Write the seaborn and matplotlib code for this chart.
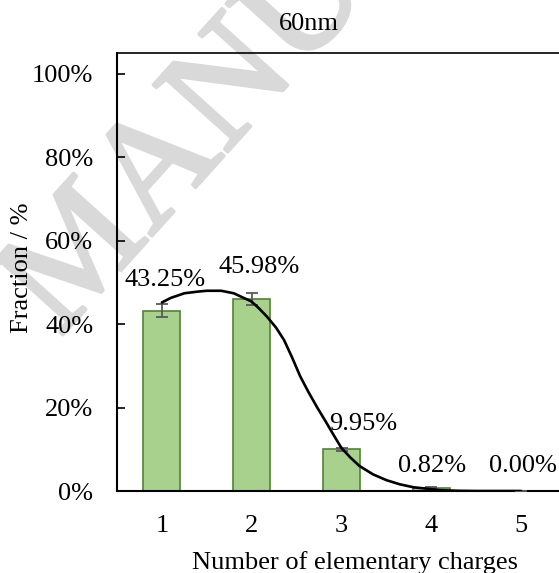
import matplotlib
matplotlib.use("Agg")
import matplotlib.pyplot as plt
import matplotlib.patheffects as pe
from matplotlib.ticker import PercentFormatter
import seaborn as sns
import pandas as pd

# ---- data ----
charges = [1, 2, 3, 4, 5]
fractions = [43.25, 45.98, 9.95, 0.82, 0.00]
errors = [1.6, 1.4, 0.3, 0.2, 0.0]
bar_labels = ["43.25%", "45.98%", "9.95%", "0.82%", "0.00%"]

curve_x = [1.0, 1.1, 1.25, 1.4, 1.5, 1.66, 1.8, 2.0, 2.08, 2.17, 2.27, 2.36, 2.45,
           2.54, 2.63, 2.73, 2.82, 2.91, 3.0, 3.1, 3.2, 3.35, 3.5, 3.65, 3.8, 4.1,
           4.3, 4.5, 5.0]
curve_y = [45.2, 46.3, 47.4, 47.8, 48.0, 48.0, 47.4, 45.4, 43.8, 41.8, 39.2, 36.2, 32.0,
           27.5, 23.8, 20.0, 16.8, 13.5, 10.3, 8.0, 6.0, 4.0, 2.6, 1.6, 0.9, 0.2,
           0.05, 0.0, 0.0]

y_ticks = [0, 20, 40, 60, 80, 100]
title = "60nm"
x_label = "Number of elementary charges"
y_label = "Fraction / %"
watermark = "MANUSCRIPT"

# label placement (layout only)
label_dx = [0.03, 0.08, 0.24, 0.01, 0.015]
label_dy = [7.35, 7.8, 6.15, 5.2, 6.0]

sns.set_style("white")
plt.rcParams["font.family"] = ["Liberation Serif", "DejaVu Serif"]
plt.rcParams["text.color"] = "black"
plt.rcParams["xtick.color"] = "black"
plt.rcParams["ytick.color"] = "black"
plt.rcParams["axes.labelcolor"] = "black"

FS = 19
W, H = 559, 573
fig = plt.figure(figsize=(W / 100, H / 100), dpi=100)
ax = fig.add_axes([117 / W, 1 - 491 / H, 449 / W, 438 / H])
ax.patch.set_alpha(0)

# watermark
wm_color = "#d9d9d9"
fig.text(60 / W, 1 - 338 / H, watermark, rotation=48, rotation_mode="anchor",
         ha="left", va="baseline", fontsize=110, color=wm_color, zorder=-5,
         family="Liberation Serif",
         path_effects=[pe.withStroke(linewidth=2.5, foreground=wm_color)])

df = pd.DataFrame({"charge": charges, "fraction": fractions})
sns.barplot(data=df, x="charge", y="fraction", native_scale=True, width=0.41,
            color="#a9d18e", edgecolor="#548235", linewidth=1.2, saturation=1,
            errorbar=None, ax=ax, zorder=2)
ax.errorbar(charges, fractions, yerr=errors, fmt="none", ecolor="#595959",
            elinewidth=1.3, capsize=4.5, capthick=1.3, zorder=3)
sns.lineplot(x=curve_x, y=curve_y, color="black", linewidth=1.9, sort=False,
             ax=ax, zorder=4)

for c, v, t, dx, dy in zip(charges, fractions, bar_labels, label_dx, label_dy):
    ax.text(c + dx, v + dy, t, ha="center", va="center", fontsize=FS, zorder=5)

ax.set_xlim(0.5, 5.5)
ax.set_ylim(0, 105)
ax.set_xticks(charges)
ax.set_yticks(y_ticks)
ax.yaxis.set_major_formatter(PercentFormatter(100, decimals=0))
ax.tick_params(axis="y", direction="in", length=6, width=1.2, pad=17, labelsize=FS,
               left=True)
ax.tick_params(axis="x", length=0, pad=17, labelsize=FS)
ax.set_xlabel("")
ax.set_ylabel("")
for side in ["left", "bottom", "top"]:
    ax.spines[side].set_visible(True)
    ax.spines[side].set_color("black")
ax.spines["left"].set_linewidth(1.5)
ax.spines["bottom"].set_linewidth(1.5)
ax.spines["top"].set_linewidth(1.2)
ax.spines["right"].set_visible(False)

fig.text(308.7 / W, 1 - 30 / H, title, ha="center", va="baseline", fontsize=FS)
fig.text(355.5 / W, 1 - 569 / H, x_label, ha="center", va="baseline", fontsize=FS)
fig.text(22 / W, 1 - 268 / H, y_label, ha="center", va="center", rotation=90,
         fontsize=FS)

fig.savefig("out.png", dpi=100)
